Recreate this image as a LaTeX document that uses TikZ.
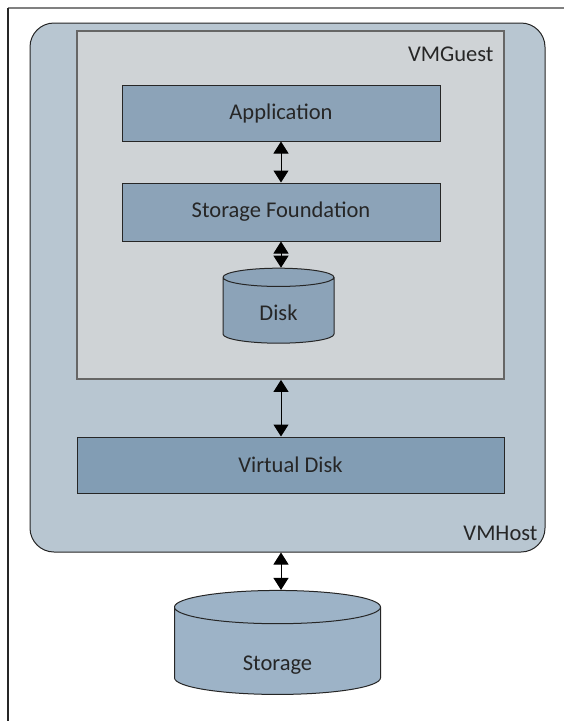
\documentclass[tikz,border=0pt]{standalone}
\usepackage{fontspec}
\setmainfont{Carlito}
\usetikzlibrary{shapes.geometric,arrows.meta}

\definecolor{hostfill}{HTML}{B8C6D1}
\definecolor{guestfill}{HTML}{CFD3D6}
\definecolor{boxfill}{HTML}{8CA3B8}
\definecolor{vdiskfill}{HTML}{829DB4}
\definecolor{storefill}{HTML}{9DB3C7}

\tikzset{
  layer/.style={draw=black!85, line width=1pt, fill=boxfill, inner sep=0pt},
  drum/.style={cylinder, shape border rotate=90, draw=black!85, line width=1pt,
    fill=boxfill, inner sep=0pt, aspect=0.48},
  link/.style={{Triangle[width=15pt,length=12pt]}-{Triangle[width=15pt,length=12pt]}, line width=1pt},
  lbl/.style={font=\fontsize{22.5}{26}\selectfont, text=black!85}
}
\newcommand{\lowtext}[2]{\raisebox{-#1}[0pt][0pt]{#2}}

\begin{document}
\begin{tikzpicture}[x=1pt,y=-1pt]
          \useasboundingbox (0,0) rectangle (564,721);
          % Frame
          \draw[gray, line width=1.2pt] (8,8) -- (564,8);
          \draw[black!85, line width=1.8pt] (8,8) -- (8,721);
          % Host
          \node (host) [draw=black!85, line width=1pt, fill=hostfill, rounded corners=24pt,
            minimum width=515pt, minimum height=529pt] at (287.5,287.5) {};
          \node (hostlbl) [lbl, anchor=east] at (541,533) {VMHost};
          % Guest
          \node (guest) [draw=black!60, line width=1.8pt, fill=guestfill,
            minimum width=427pt, minimum height=348pt] at (290.5,205) {};
          \node (guestlbl) [lbl, anchor=east] at (497,54) {VMGuest};
          % Layers
          \node (app) [layer, lbl, minimum width=318pt, minimum height=56pt] at (281,113) {Application};
          \node (sf) [layer, lbl, minimum width=318pt, minimum height=58pt] at (281,212) {Storage Foundation};
          \node (disk) [drum, lbl, minimum width=111pt, minimum height=75pt] at (278.5,310.5) {\lowtext{10pt}{Disk}};
          \node (vdisk) [layer, lbl, fill=vdiskfill, minimum width=427pt, minimum height=56pt] at (290.5,465) {Virtual Disk};
          \node (store) [drum, lbl, fill=storefill, minimum width=206pt, minimum height=104pt] at (277.5,651) {\lowtext{19pt}{Storage}};
          % Links
          \draw[link] (app.south) -- (app.south |- sf.north);
          \draw[link] (sf.south) -- (sf.south |- disk.top);
          \draw[link] (guest.south -| app.south) -- (vdisk.north -| app.south);
          \draw[link] (host.south -| app.south) -- (store.top -| app.south);
        \end{tikzpicture}
\end{document}
